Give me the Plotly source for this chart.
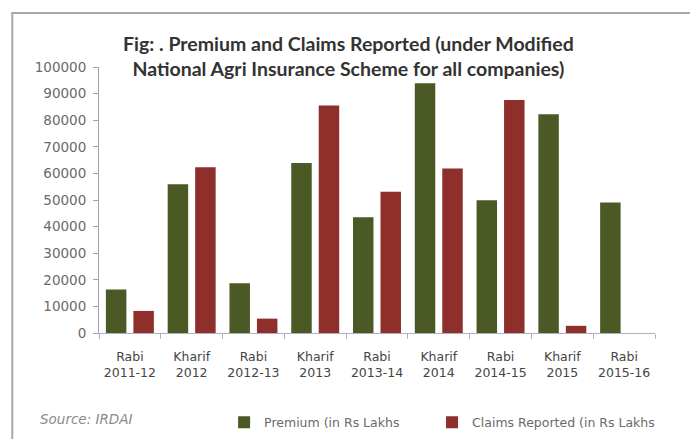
import plotly.graph_objects as go

seasons = ["Rabi<br>2011-12", "Kharif<br>2012", "Rabi<br>2012-13", "Kharif<br>2013",
           "Rabi<br>2013-14", "Kharif<br>2014", "Rabi<br>2014-15", "Kharif<br>2015",
           "Rabi<br>2015-16"]
premium = [16400, 55900, 18700, 63900, 43500, 93900, 49900, 82200, 49100]
claims = [8300, 62300, 5400, 85500, 53100, 61800, 87600, 2700, None]
y_ticks = [0, 10000, 20000, 30000, 40000, 50000, 60000, 70000, 80000, 90000, 100000]

GREEN = "#4B5A25"
RED = "#8E2F2C"

fig = go.Figure()
fig.add_trace(go.Bar(x=seasons, y=premium, name="Premium (in Rs Lakhs",
                     marker=dict(color=GREEN, line=dict(width=0)), legend="legend"))
fig.add_trace(go.Bar(x=seasons, y=claims, name="Claims Reported (in Rs Lakhs",
                     marker=dict(color=RED, line=dict(width=0)), legend="legend2"))

legend_font = dict(family="DejaVu Sans", size=12.5, color="#6A6A6A")

fig.update_layout(
    width=690, height=439,
    margin=dict(l=99, r=35, t=67, b=106, autoexpand=False),
    paper_bgcolor="white", plot_bgcolor="white",
    barmode="group", bargap=0.11, bargroupgap=0.255,
    showlegend=True,
    legend=dict(orientation="h", x=0.225, xanchor="left", y=-0.337, yanchor="middle",
                font=legend_font, itemwidth=30, bgcolor="rgba(0,0,0,0)"),
    legend2=dict(orientation="h", x=0.599, xanchor="left", y=-0.337, yanchor="middle",
                 font=legend_font, itemwidth=30, bgcolor="rgba(0,0,0,0)"),
    font=dict(family="Lato"),
)

fig.update_yaxes(
    range=[0, 100000], tickvals=y_ticks, ticktext=[str(v) for v in y_ticks],
    showgrid=False, zeroline=False,
    showline=True, linecolor="#A0A0B0", linewidth=1,
    ticks="outside", ticklen=5, tickcolor="#A0A0B0", ticklabelstandoff=4,
    tickfont=dict(family="DejaVu Sans", size=13.5, color="#6A6A6A"),
)
fig.update_xaxes(
    showgrid=False, showline=True, linecolor="#B0B0C0", linewidth=1,
    ticks="outside", ticklen=5, tickcolor="#B0B0C0", tickson="boundaries",
    ticklabelstandoff=12,
    tickfont=dict(family="DejaVu Sans", size=12.5, color="#454545"),
)

# Chart title
fig.add_annotation(
    text="<b>Fig: . Premium and Claims Reported (under Modified<br>National Agri Insurance Scheme for all companies)</b>",
    xref="paper", yref="paper", x=0.448, y=1.04, xanchor="center", yanchor="middle",
    showarrow=False, align="center",
    font=dict(family="Lato", size=19.5, color="#333333"),
)

# Source note
fig.add_annotation(
    text="<i>Source: IRDAI</i>", xref="paper", yref="paper",
    x=-0.11, y=-0.322, xanchor="left", yanchor="middle", showarrow=False,
    font=dict(family="DejaVu Sans", size=13.5, color="#8A8A8A"),
)

# Frame around the chart
fig.add_shape(type="rect", xref="paper", yref="paper",
              x0=-0.156, x1=1.1, y0=-0.45, y1=1.203,
              line=dict(color="#A8A8A8", width=2), fillcolor="rgba(0,0,0,0)", layer="below")

fig.write_html("out.html")
